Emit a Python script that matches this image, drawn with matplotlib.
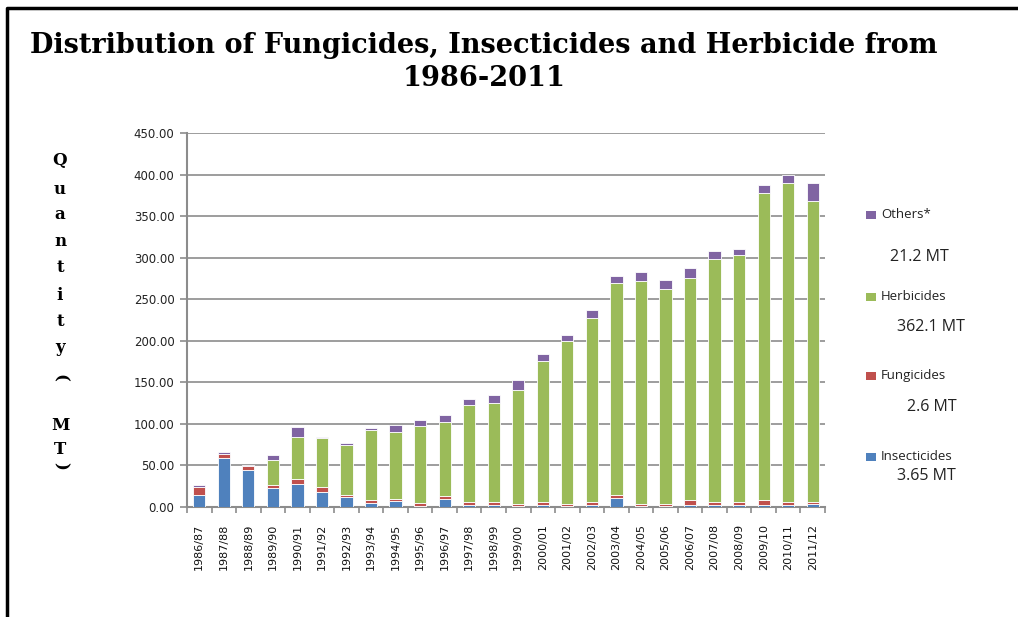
import matplotlib
matplotlib.use("Agg")
import matplotlib.pyplot as plt
from matplotlib.lines import Line2D
from matplotlib.patches import Rectangle
import numpy as np

years = ['1986/87', '1987/88', '1988/89', '1989/90', '1990/91', '1991/92', '1992/93',
         '1993/94', '1994/95', '1995/96', '1996/97', '1997/98', '1998/99', '1999/00',
         '2000/01', '2001/02', '2002/03', '2003/04', '2004/05', '2005/06', '2006/07',
         '2007/08', '2008/09', '2009/10', '2010/11', '2011/12']

insecticides = [14.5, 59, 44, 23, 28, 18.5, 12, 5, 7, 1.5, 10, 3, 3, 1,
                2.5, 1, 2.5, 11, 1, 1, 3, 3, 3, 3, 3, 3.65]
fungicides = [9, 5, 5.5, 4, 6, 5, 3, 3, 3, 3, 3, 2.5, 2.5, 3,
              3, 3, 3, 3, 3, 3, 5, 3, 3, 5, 3.5, 2.6]
herbicides = [0, 0, 0, 30, 50, 59, 60, 85, 80.5, 93.5, 89, 117.3, 119.7, 137,
              170, 196, 222.5, 255, 267.5, 258, 268, 292, 297, 370, 383, 362.1]
others = [2.5, 2.5, 0.8, 5, 12, 2, 2.5, 2, 8, 7, 9, 7, 9, 11.5,
          9, 7.5, 9, 9, 11, 11, 11, 10, 7, 10, 10.5, 21.2]

series = [('Insecticides', insecticides, '#4F81BD'),
          ('Fungicides', fungicides, '#C0504D'),
          ('Herbicides', herbicides, '#9BBB59'),
          ('Others*', others, '#8064A2')]

# 2011/12 totals shown next to the legend
totals = {'Others*': '21.2 MT', 'Herbicides': '362.1 MT',
          'Fungicides': '2.6 MT', 'Insecticides': '3.65 MT'}

W, H = 1018, 617
fig = plt.figure(figsize=(W / 100, H / 100), dpi=100)
ax = fig.add_axes([187 / W, 1 - 507 / H, 638 / W, 374 / H])

x = np.arange(len(years))
bottom = np.zeros(len(years))
for name, vals, col in series:
    vals = np.array(vals)
    ax.bar(x, vals, 0.5, bottom=bottom, color=col, edgecolor='white', linewidth=0.6, zorder=3)
    bottom += vals

grey = '#8c8c8c'
ax.set_xlim(-0.5, len(years) - 0.5)
ax.set_ylim(0, 450)
ax.set_yticks(np.arange(0, 451, 50))
ax.set_yticklabels(['%.2f' % v for v in np.arange(0, 451, 50)], fontsize=8.5, color='#222222')
ax.yaxis.grid(True, color=grey, linewidth=1.2, zorder=0)
ax.set_xticks(x)
ax.set_xticklabels(years, rotation=90, fontsize=8, color='#111111')
ax.set_xticks(np.arange(-0.5, len(years), 1), minor=True)
ax.tick_params(axis='x', which='major', length=0, pad=12)
ax.tick_params(axis='x', which='minor', length=4, color=grey, width=1.2)
ax.tick_params(axis='y', length=5, color=grey, width=1.2, pad=4)
for s in ['top', 'right']:
    ax.spines[s].set_visible(False)
for s in ['left', 'bottom']:
    ax.spines[s].set_color(grey)
    ax.spines[s].set_linewidth(1.5)

# title
fig.text(484 / W, 1 - 62 / H, 'Distribution of Fungicides, Insecticides and Herbicide from\n1986-2011',
         ha='center', va='center', fontsize=19.5, fontweight='bold', family='DejaVu Serif',
         linespacing=1.25)

# stacked y-axis label
label_chars = [('Q', 160, 0), ('u', 189, 0), ('a', 215, 0), ('n', 242, 0), ('t', 268, 0),
               ('i', 295, 0), ('t', 322, 0), ('y', 348, 0), ('(', 378, -90),
               ('M', 425, 0), ('T', 450, 0), (')', 466, -90)]
for ch, yy, rot in label_chars:
    fig.text(60 / W, 1 - yy / H, ch, ha='center', va='center', fontsize=12,
             fontweight='bold', family='DejaVu Serif', rotation=rot)

# legend with totals
legend_rows = [('Others*', 215, 257, 890), ('Herbicides', 297, 327, 897),
               ('Fungicides', 376, 407, 907), ('Insecticides', 457, 476, 897)]
colours = {n: c for n, _, c in series}
for name, ly, ty, tx in legend_rows:
    fig.patches.append(Rectangle((866 / W, 1 - (ly + 4) / H), 10 / W, 8 / H,
                                 transform=fig.transFigure, facecolor=colours[name],
                                 edgecolor='none'))
    fig.text(881 / W, 1 - ly / H, name, ha='left', va='center', fontsize=9.5,
             family='Open Sans', color='#222222')
    fig.text(tx / W, 1 - ty / H, totals[name], ha='left', va='center', fontsize=11.5,
             family='Open Sans', color='#222222')

# frame (top and left edges)
fig.lines.append(Line2D([7 / W, 7 / W, 1], [0, 1 - 8 / H, 1 - 8 / H],
                        transform=fig.transFigure, color='black', linewidth=2.5))

fig.savefig('out.png', dpi=100)
